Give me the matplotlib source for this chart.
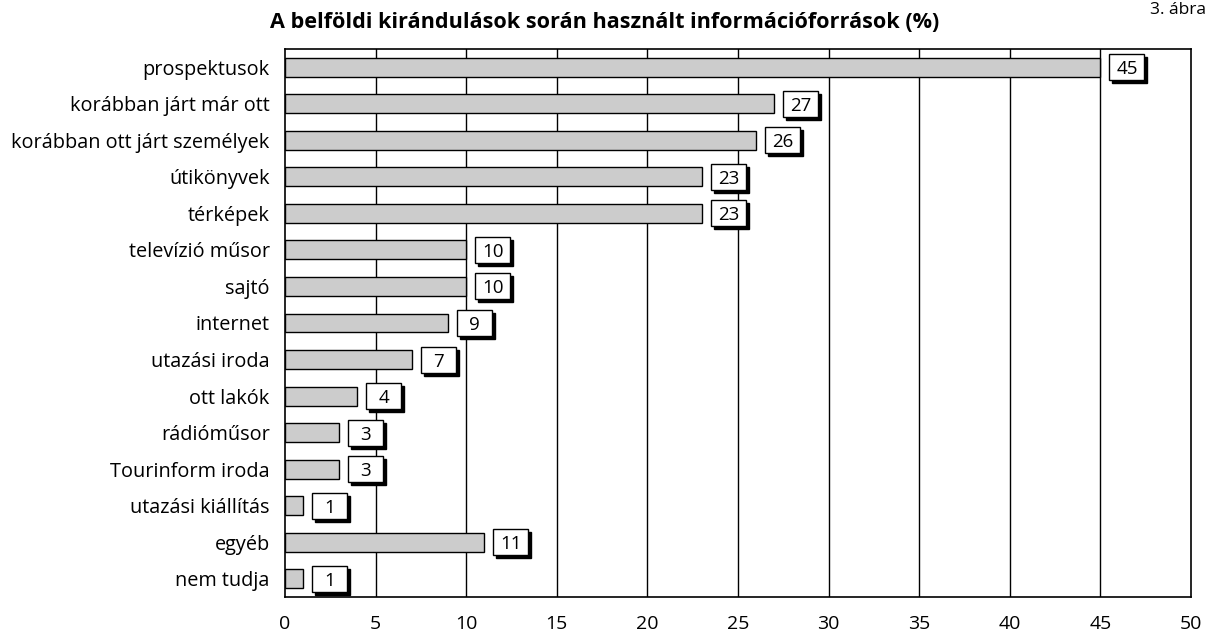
import matplotlib
matplotlib.use("Agg")
import matplotlib.pyplot as plt
from matplotlib.patches import Rectangle
from matplotlib.transforms import ScaledTranslation

categories = ["prospektusok", "korábban járt már ott", "korábban ott járt személyek",
              "útikönyvek", "térképek", "televízió műsor", "sajtó", "internet",
              "utazási iroda", "ott lakók", "rádióműsor", "Tourinform iroda",
              "utazási kiállítás", "egyéb", "nem tudja"]
values = [45, 27, 26, 23, 23, 10, 10, 9, 7, 4, 3, 3, 1, 11, 1]
xticks = [0, 5, 10, 15, 20, 25, 30, 35, 40, 45, 50]
title = "A belföldi kirándulások során használt információforrások (%)"
fig_label = "3. ábra"

plt.rcParams['font.family'] = ['Open Sans', 'DejaVu Sans']
FS = 14

fig = plt.figure(figsize=(12.09, 6.39), dpi=100)
ax = fig.add_axes([285/1209, 1-597/639, (1191-285)/1209, (597-49)/639])

y = list(range(len(categories)))
ax.barh(y, values, height=0.52, color="#cccccc", edgecolor="black", linewidth=1.0, zorder=3)
ax.set_ylim(len(categories)-0.5, -0.5)
ax.set_xlim(0, 50)
ax.set_xticks(xticks)
ax.set_xticklabels([str(t) for t in xticks], fontsize=FS)
ax.set_yticks(y)
ax.set_yticklabels(categories, fontsize=FS + 0.3)
ax.tick_params(length=0)
ax.tick_params(axis='y', pad=11)
ax.tick_params(axis='x', pad=13)
for t in xticks[1:-1]:
    ax.axvline(t, color="black", linewidth=1.0, zorder=1)
for s in ax.spines.values():
    s.set_linewidth(1.2)

px = 1/100.0
gap, bw, bh, sh = 9, 35, 26, 3
for i, v in enumerate(values):
    tr = fig.dpi_scale_trans + ScaledTranslation(v, i, ax.transData)
    ax.add_patch(Rectangle(((gap+sh)*px, (-bh/2-sh)*px), bw*px, bh*px, transform=tr,
                           facecolor='black', edgecolor='black', linewidth=1, zorder=4, clip_on=False))
    ax.add_patch(Rectangle((gap*px, -bh/2*px), bw*px, bh*px, transform=tr,
                           facecolor='white', edgecolor='black', linewidth=1, zorder=5, clip_on=False))
    ax.annotate(str(v), xy=(v, i), xytext=(gap+bw/2, -7), textcoords='offset pixels',
                ha='center', va='baseline', fontsize=FS-0.5, color='black', zorder=6)

fig.text(605/1209, 1-22/639, title, ha='center', va='center', fontsize=15.6, fontweight='bold')
fig.text(1150/1209, 1-10/639, fig_label, ha='left', va='center', fontsize=12.5)

fig.savefig("out.png", dpi=100)
